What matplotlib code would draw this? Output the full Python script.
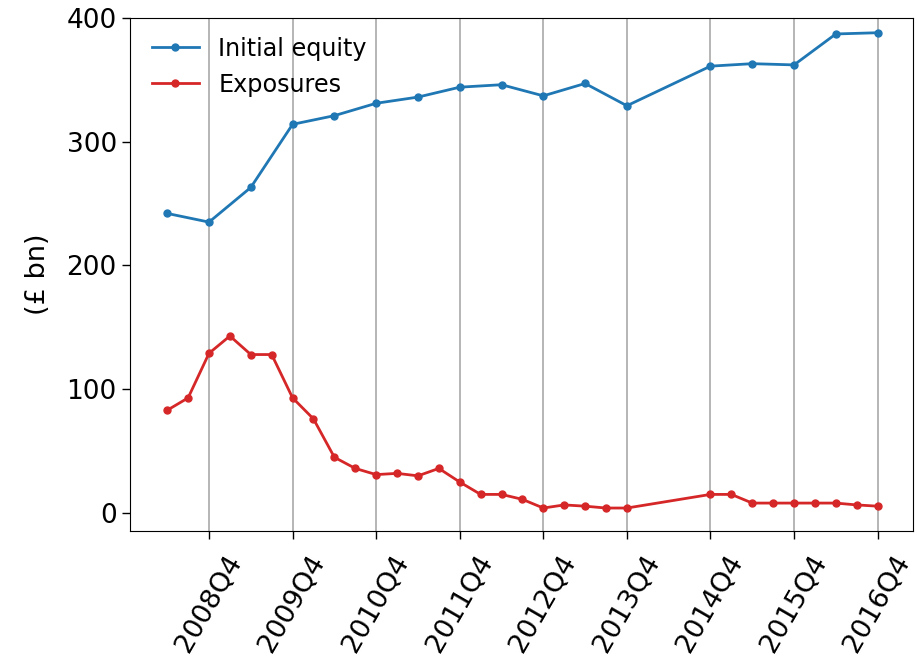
import numpy as np
import matplotlib
matplotlib.use("Agg")
import matplotlib.pyplot as plt

# quarterly axis, 2008Q2 .. 2016Q4
quarters = [f"{y}Q{q}" for y in range(2008, 2017) for q in range(1, 5)][1:]

equity_q = ["2008Q2", "2008Q4", "2009Q2", "2009Q4", "2010Q2", "2010Q4",
            "2011Q2", "2011Q4", "2012Q2", "2012Q4", "2013Q2", "2013Q4",
            "2014Q4", "2015Q2", "2015Q4", "2016Q2", "2016Q4"]
equity = [242, 235, 263, 314, 321, 331, 336, 344, 346, 337, 347, 329,
          361, 363, 362, 387, 388]

exp_q = ["2008Q2", "2008Q3", "2008Q4", "2009Q1", "2009Q2", "2009Q3", "2009Q4",
         "2010Q1", "2010Q2", "2010Q3", "2010Q4", "2011Q1", "2011Q2", "2011Q3",
         "2011Q4", "2012Q1", "2012Q2", "2012Q3", "2012Q4", "2013Q1", "2013Q2",
         "2013Q3", "2013Q4", "2014Q4", "2015Q1", "2015Q2", "2015Q3", "2015Q4",
         "2016Q1", "2016Q2", "2016Q3", "2016Q4"]
exposures = [83, 93, 129, 143, 128, 128, 93, 76, 45, 36, 31, 32, 30, 36,
             25, 15, 15, 11, 4, 6.5, 5.5, 4, 4, 15, 15, 8, 8, 8, 8, 8, 6.5, 5.5]

tick_labels = [f"{y}Q4" for y in range(2008, 2017)]

pos = {q: i for i, q in enumerate(quarters)}

fig = plt.figure(figsize=(9.17, 6.62), dpi=100)
ax = fig.add_axes([0.1418, 0.198, 0.854, 0.775])

ax.plot([pos[q] for q in equity_q], equity, color="#1f77b4", lw=2,
        marker="o", ms=5, label="Initial equity")
ax.plot([pos[q] for q in exp_q], exposures, color="#d62728", lw=2,
        marker="o", ms=5, label="Exposures")

ax.set_xticks([pos[t] for t in tick_labels])
ax.set_xticklabels(tick_labels, rotation=60, fontsize=19.5)
ax.set_xlim(-1.78, 35.7)
ax.set_ylim(-14.5, 400)
ax.set_yticks([0, 100, 200, 300, 400])
ax.tick_params(axis="y", labelsize=19)
ax.tick_params(axis="x", pad=8)
ax.tick_params(length=6, width=1)
ax.set_ylabel("(£ bn)", fontsize=19.5, labelpad=11)
ax.grid(axis="x", color="#b0b0b0", lw=1.3)
ax.legend(loc="upper left", frameon=False, fontsize=17.2, handlelength=2.0,
          bbox_to_anchor=(0.0, 1.005))

fig.savefig("out.png", dpi=100)
